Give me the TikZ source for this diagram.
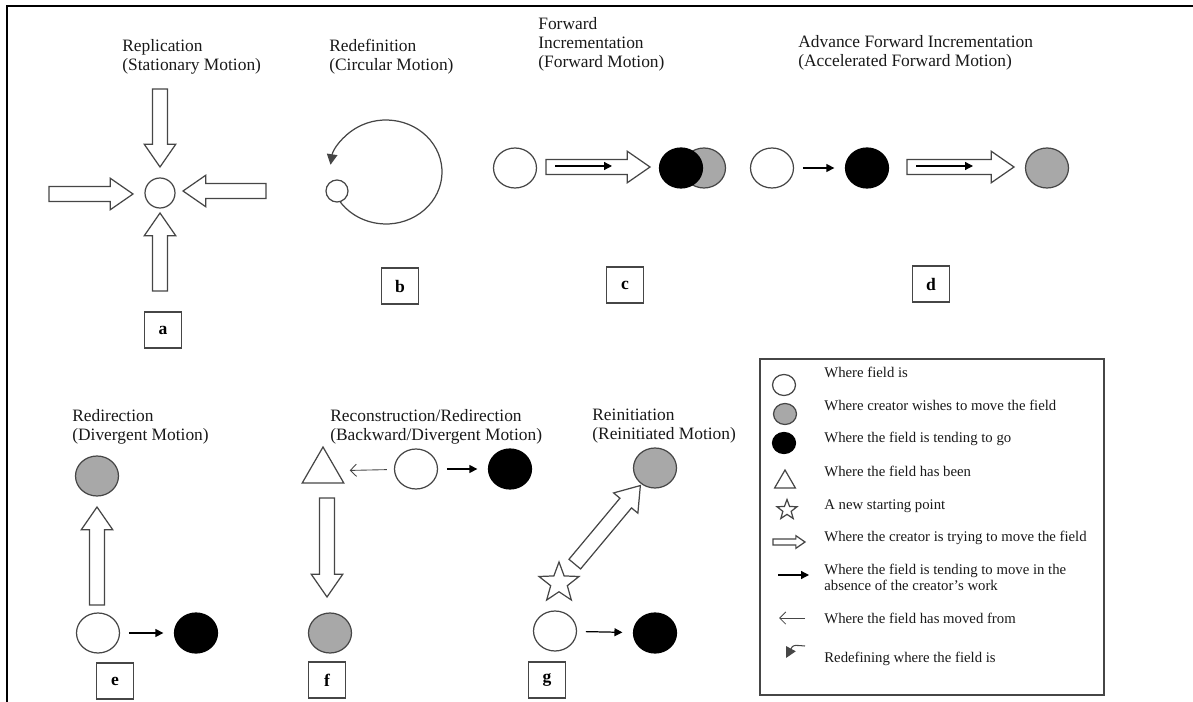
\documentclass[tikz,border=0pt]{standalone}
\usepackage{fontspec}
\setmainfont{Liberation Serif}
\usetikzlibrary{positioning, arrows.meta, shapes.geometric, calc}
\definecolor{inkline}{RGB}{70,70,70}
\definecolor{fieldgrey}{RGB}{168,168,168}
\newcommand{\fatarrow}[3][1]{%
  \coordinate (fatbase) at ($(#3)!#1*13pt!(#2)$);
  \draw[fatline] ($(#2)!#1*4.3pt!90:(#3)$) -- ($(fatbase)!#1*4.3pt!90:(#3)$)
    -- ($(fatbase)!#1*9pt!90:(#3)$) -- (#3) -- ($(fatbase)!#1*9pt!-90:(#3)$)
    -- ($(fatbase)!#1*4.3pt!-90:(#3)$) -- ($(#2)!#1*4.3pt!-90:(#3)$) -- cycle;
}
\begin{document}
\begin{tikzpicture}[x=0.02cm, y=-0.02cm,
    field/.style={ellipse, draw=inkline, line width=0.7pt, inner sep=0pt, minimum width=0.86cm, minimum height=0.8cm},
    fieldnow/.style={field, fill=white},
    fieldwish/.style={field, fill=fieldgrey},
    fieldgo/.style={field, fill=black, draw=black},
    keysize/.style={minimum width=0.46cm, minimum height=0.42cm},
    been/.style={regular polygon, regular polygon sides=3, draw=inkline, line width=0.7pt, inner sep=0pt, minimum size=0.96cm},
    newstart/.style={star, star points=5, star point ratio=2.4, draw=inkline, line width=0.7pt, inner sep=0pt, minimum size=0.84cm},
    panelbox/.style={draw=inkline, line width=0.6pt, minimum width=0.74cm, minimum height=0.72cm, inner sep=0pt, font=\fontsize{10pt}{12pt}\selectfont\bfseries},
    titletext/.style={anchor=north west, inner sep=0pt, align=left, text=black!90, font=\fontsize{9.9pt}{10.8pt}\selectfont},
    keytext/.style={anchor=north west, inner sep=0pt, align=left, text=black!90, font=\fontsize{8.4pt}{9.1pt}\selectfont},
    goarrow/.style={-{Triangle[length=4.5pt,width=4.5pt]}, line width=0.7pt, shorten <=5pt, shorten >=6pt},
    innerarrow/.style={-{Triangle[length=4.5pt,width=4.5pt]}, line width=0.7pt},
    fromarrow/.style={-{Straight Barb[length=3.5pt,width=7pt]}, line width=0.5pt, draw=inkline},
    fatline/.style={draw=inkline, line width=0.7pt, fill=white}
]
\useasboundingbox (0,0) rectangle (1193,702);
\draw[line width=1.4pt] (1193,6) -- (7,6) -- (7,702);

% a
\node[titletext] (ta) at (122,39) {Replication\\(Stationary Motion)};
\node[circle, draw=inkline, line width=0.7pt, minimum size=0.6cm, inner sep=0pt] (ca) at (160,193) {};
\coordinate (aNt) at (160,89);  \coordinate (aNh) at (160,167);
\coordinate (aWt) at (49,194);  \coordinate (aWh) at (133,194);
\coordinate (aEt) at (266,191); \coordinate (aEh) at (183,191);
\coordinate (aSt) at (160,291); \coordinate (aSh) at (160,213);
\fatarrow{aNt}{aNh}
\fatarrow{aWt}{aWh}
\fatarrow{aEt}{aEh}
\fatarrow{aSt}{aSh}
\node[panelbox] (la) at (163,330) {a};

% b
\node[titletext] (tb) at (329,39) {Redefinition\\(Circular Motion)};
\coordinate (bc) at (386,172);
\draw[draw=inkline, line width=0.7pt, -{Triangle[length=6pt,width=6pt]}] ($(bc)+(212:1.12cm and 1.04cm)$) arc[start angle=212, end angle=532, x radius=1.12cm, y radius=1.04cm];
\node[circle, draw=inkline, line width=0.7pt, minimum size=0.44cm, inner sep=0pt, fill=white] (bs) at (337,191) {};
\node[panelbox] (lb) at (400,286) {b};

% c
\node[titletext] (tc) at (538,17) {Forward\\Incrementation\\(Forward Motion)};
\node[fieldnow] (cw) at (515,168) {};
\node[fieldwish] (cg) at (704,168) {};
\node[fieldgo] (cb) at (681,168) {};
\coordinate (cft) at (546,167); \coordinate (cfh) at (650,167);
\fatarrow{cft}{cfh}
\coordinate (ci1) at (555,166); \coordinate (ci2) at (612,166);
\draw[innerarrow] (ci1) -- (ci2);
\node[panelbox] (lc) at (625,285) {c};

% d
\node[titletext] (td) at (798,35) {Advance Forward Incrementation\\(Accelerated Forward Motion)};
\node[fieldnow] (dw) at (772,168) {};
\node[fieldgo] (db) at (867,168) {};
\node[fieldwish] (dg) at (1047,168) {};
\draw[goarrow] (dw) -- (db);
\coordinate (dft) at (907,167); \coordinate (dfh) at (1014,167);
\fatarrow{dft}{dfh}
\coordinate (di1) at (916,166); \coordinate (di2) at (973,166);
\draw[innerarrow] (di1) -- (di2);
\node[panelbox] (ld) at (931,284) {d};

% e
\node[titletext] (te) at (72,409) {Redirection\\(Divergent Motion)};
\node[fieldwish] (eg) at (97,476) {};
\node[fieldnow] (ew) at (98,633) {};
\node[fieldgo] (eb) at (196,633) {};
\draw[goarrow] (ew) -- (eb);
\coordinate (eft) at (97,605); \coordinate (efh) at (97,507);
\fatarrow{eft}{efh}
\node[panelbox] (le) at (115,681) {e};

% f
\node[titletext] (tf) at (330,409) {Reconstruction/Redirection\\(Backward/Divergent Motion)};
\node[been] (ft) at (323,471) {};
\node[fieldnow] (fw) at (416,469) {};
\node[fieldgo] (fb) at (510,469) {};
\node[fieldwish] (fg) at (330,633) {};
\draw[fromarrow, shorten <=4pt, shorten >=7pt] (fw) -- (ft);
\draw[goarrow] (fw) -- (fb);
\coordinate (fft) at (327,498); \coordinate (ffh) at (327,597);
\fatarrow{fft}{ffh}
\node[panelbox] (lf) at (327,680) {f};

% g
\node[titletext] (tg) at (592,409) {Reinitiation\\(Reinitiated Motion)};
\node[fieldwish] (gg) at (655,468) {};
\node[newstart] (gs) at (559,583) {};
\node[fieldnow] (gw) at (555,631) {};
\node[fieldgo] (gb) at (655,633) {};
\draw[goarrow] (gw) -- (gb);
\coordinate (gft) at ($(gs)!14pt!(gg)$); \coordinate (gfh) at ($(gg)!13pt!(gs)$);
\fatarrow{gft}{gfh}
\node[panelbox] (lg) at (547,680) {g};

% key
\draw[draw=inkline, line width=0.6pt] (760,359) rectangle (1104,695);
\node[fieldnow, keysize] (kw) at (784,385) {};
\node[fieldwish, keysize] (kg) at (785,414) {};
\node[fieldgo, keysize] (kb) at (784,443) {};
\node[been, minimum size=0.48cm] (kt) at (785,482) {};
\node[newstart, minimum size=0.42cm] (ks) at (787,510) {};
\coordinate (kft) at (773,542); \coordinate (kfh) at (805,542);
\fatarrow[0.4]{kft}{kfh}
\coordinate (kg1) at (778,575); \coordinate (kg2) at (809,575);
\draw[innerarrow] (kg1) -- (kg2);
\coordinate (km1) at (805,618); \coordinate (km2) at (779,618);
\draw[fromarrow] (km1) -- (km2);
\coordinate (kr1) at (805,646); \coordinate (kr2) at (786,658);
\draw[draw=inkline, line width=0.6pt, -{Triangle[length=6pt,width=6pt]}] (kr1) .. controls (793,645) .. (kr2);
\node[keytext] (k1) at (824,367) {Where field is};
\node[keytext] (k2) at (824,400) {Where creator wishes to move the field};
\node[keytext] (k3) at (824,432) {Where the field is tending to go};
\node[keytext] (k4) at (824,466) {Where the field has been};
\node[keytext] (k5) at (824,499) {A new starting point};
\node[keytext] (k6) at (824,531) {Where the creator is trying to move the field};
\node[keytext] (k7) at (824,564) {Where the field is tending to move in the\\absence of the creator's work};
\node[keytext] (k8) at (824,613) {Where the field has moved from};
\node[keytext] (k9) at (824,652) {Redefining where the field is};
\end{tikzpicture}
\end{document}
